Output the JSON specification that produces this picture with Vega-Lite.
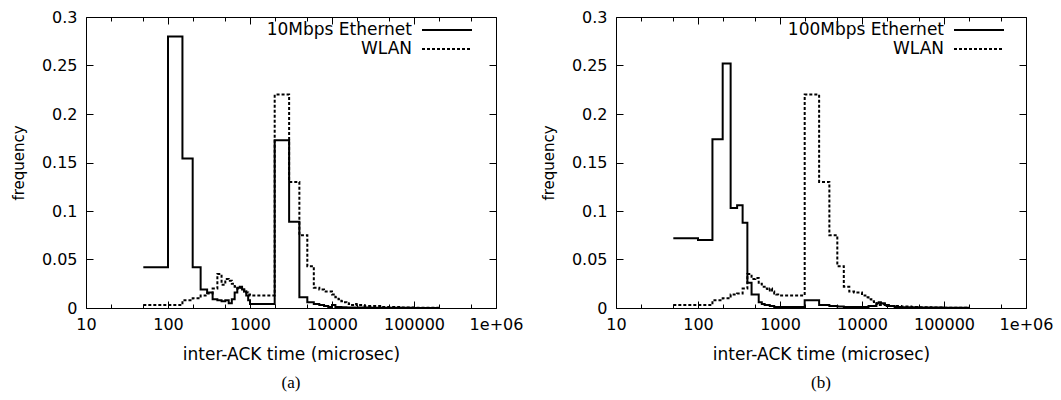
{
  "$schema": "https://vega.github.io/schema/vega-lite/v6.json",
  "background": "white",
  "padding": {"left": 10, "top": 8, "right": 0, "bottom": 0},
  "spacing": 16,
  "datasets": {
    "a": [
      {"s": "10Mbps Ethernet", "x": 50, "f": 0.042},
      {"s": "10Mbps Ethernet", "x": 100, "f": 0.280},
      {"s": "10Mbps Ethernet", "x": 150, "f": 0.154},
      {"s": "10Mbps Ethernet", "x": 200, "f": 0.042},
      {"s": "10Mbps Ethernet", "x": 250, "f": 0.019},
      {"s": "10Mbps Ethernet", "x": 300, "f": 0.016},
      {"s": "10Mbps Ethernet", "x": 350, "f": 0.009},
      {"s": "10Mbps Ethernet", "x": 400, "f": 0.008},
      {"s": "10Mbps Ethernet", "x": 450, "f": 0.007},
      {"s": "10Mbps Ethernet", "x": 500, "f": 0.008},
      {"s": "10Mbps Ethernet", "x": 550, "f": 0.005},
      {"s": "10Mbps Ethernet", "x": 600, "f": 0.009},
      {"s": "10Mbps Ethernet", "x": 650, "f": 0.016},
      {"s": "10Mbps Ethernet", "x": 700, "f": 0.021},
      {"s": "10Mbps Ethernet", "x": 750, "f": 0.022},
      {"s": "10Mbps Ethernet", "x": 800, "f": 0.019},
      {"s": "10Mbps Ethernet", "x": 850, "f": 0.017},
      {"s": "10Mbps Ethernet", "x": 900, "f": 0.013},
      {"s": "10Mbps Ethernet", "x": 950, "f": 0.008},
      {"s": "10Mbps Ethernet", "x": 1000, "f": 0.004},
      {"s": "10Mbps Ethernet", "x": 2000, "f": 0.173},
      {"s": "10Mbps Ethernet", "x": 3000, "f": 0.089},
      {"s": "10Mbps Ethernet", "x": 4000, "f": 0.011},
      {"s": "10Mbps Ethernet", "x": 5000, "f": 0.006},
      {"s": "10Mbps Ethernet", "x": 6000, "f": 0.004},
      {"s": "10Mbps Ethernet", "x": 7000, "f": 0.003},
      {"s": "10Mbps Ethernet", "x": 8000, "f": 0.002},
      {"s": "10Mbps Ethernet", "x": 9000, "f": 0.001},
      {"s": "10Mbps Ethernet", "x": 10000, "f": 0.003},
      {"s": "10Mbps Ethernet", "x": 11000, "f": 0.001},
      {"s": "10Mbps Ethernet", "x": 13000, "f": 0.0008},
      {"s": "10Mbps Ethernet", "x": 15000, "f": 0.0005},
      {"s": "10Mbps Ethernet", "x": 20000, "f": 0.0005},
      {"s": "10Mbps Ethernet", "x": 30000, "f": 0.0003},
      {"s": "10Mbps Ethernet", "x": 50000, "f": 0.0002},
      {"s": "10Mbps Ethernet", "x": 100000, "f": 0.0001},
      {"s": "10Mbps Ethernet", "x": 200000, "f": 0.0001},
      {"s": "WLAN", "x": 50, "f": 0.003},
      {"s": "WLAN", "x": 100, "f": 0.003},
      {"s": "WLAN", "x": 150, "f": 0.008},
      {"s": "WLAN", "x": 200, "f": 0.010},
      {"s": "WLAN", "x": 250, "f": 0.013},
      {"s": "WLAN", "x": 300, "f": 0.015},
      {"s": "WLAN", "x": 350, "f": 0.020},
      {"s": "WLAN", "x": 400, "f": 0.035},
      {"s": "WLAN", "x": 450, "f": 0.024},
      {"s": "WLAN", "x": 500, "f": 0.030},
      {"s": "WLAN", "x": 550, "f": 0.028},
      {"s": "WLAN", "x": 600, "f": 0.025},
      {"s": "WLAN", "x": 650, "f": 0.022},
      {"s": "WLAN", "x": 700, "f": 0.020},
      {"s": "WLAN", "x": 750, "f": 0.021},
      {"s": "WLAN", "x": 800, "f": 0.019},
      {"s": "WLAN", "x": 850, "f": 0.017},
      {"s": "WLAN", "x": 900, "f": 0.016},
      {"s": "WLAN", "x": 950, "f": 0.014},
      {"s": "WLAN", "x": 1000, "f": 0.013},
      {"s": "WLAN", "x": 2000, "f": 0.220},
      {"s": "WLAN", "x": 3000, "f": 0.130},
      {"s": "WLAN", "x": 4000, "f": 0.075},
      {"s": "WLAN", "x": 5000, "f": 0.043},
      {"s": "WLAN", "x": 6000, "f": 0.021},
      {"s": "WLAN", "x": 7000, "f": 0.019},
      {"s": "WLAN", "x": 8000, "f": 0.017},
      {"s": "WLAN", "x": 9000, "f": 0.017},
      {"s": "WLAN", "x": 10000, "f": 0.014},
      {"s": "WLAN", "x": 11000, "f": 0.011},
      {"s": "WLAN", "x": 12000, "f": 0.009},
      {"s": "WLAN", "x": 13000, "f": 0.007},
      {"s": "WLAN", "x": 14000, "f": 0.006},
      {"s": "WLAN", "x": 15000, "f": 0.005},
      {"s": "WLAN", "x": 16000, "f": 0.004},
      {"s": "WLAN", "x": 17000, "f": 0.003},
      {"s": "WLAN", "x": 19000, "f": 0.004},
      {"s": "WLAN", "x": 20000, "f": 0.003},
      {"s": "WLAN", "x": 22000, "f": 0.003},
      {"s": "WLAN", "x": 25000, "f": 0.002},
      {"s": "WLAN", "x": 30000, "f": 0.002},
      {"s": "WLAN", "x": 40000, "f": 0.001},
      {"s": "WLAN", "x": 50000, "f": 0.001},
      {"s": "WLAN", "x": 70000, "f": 0.0005},
      {"s": "WLAN", "x": 100000, "f": 0.0003},
      {"s": "WLAN", "x": 150000, "f": 0.0002},
      {"s": "WLAN", "x": 200000, "f": 0.0001}
    ],
    "b": [
      {"s": "100Mbps Ethernet", "x": 50, "f": 0.072},
      {"s": "100Mbps Ethernet", "x": 100, "f": 0.070},
      {"s": "100Mbps Ethernet", "x": 150, "f": 0.174},
      {"s": "100Mbps Ethernet", "x": 200, "f": 0.252},
      {"s": "100Mbps Ethernet", "x": 250, "f": 0.103},
      {"s": "100Mbps Ethernet", "x": 300, "f": 0.106},
      {"s": "100Mbps Ethernet", "x": 350, "f": 0.088},
      {"s": "100Mbps Ethernet", "x": 400, "f": 0.026},
      {"s": "100Mbps Ethernet", "x": 450, "f": 0.014},
      {"s": "100Mbps Ethernet", "x": 500, "f": 0.014},
      {"s": "100Mbps Ethernet", "x": 550, "f": 0.006},
      {"s": "100Mbps Ethernet", "x": 600, "f": 0.004},
      {"s": "100Mbps Ethernet", "x": 650, "f": 0.003},
      {"s": "100Mbps Ethernet", "x": 700, "f": 0.003},
      {"s": "100Mbps Ethernet", "x": 750, "f": 0.002},
      {"s": "100Mbps Ethernet", "x": 800, "f": 0.002},
      {"s": "100Mbps Ethernet", "x": 850, "f": 0.001},
      {"s": "100Mbps Ethernet", "x": 900, "f": 0.001},
      {"s": "100Mbps Ethernet", "x": 950, "f": 0.001},
      {"s": "100Mbps Ethernet", "x": 1000, "f": 0.001},
      {"s": "100Mbps Ethernet", "x": 2000, "f": 0.008},
      {"s": "100Mbps Ethernet", "x": 3000, "f": 0.003},
      {"s": "100Mbps Ethernet", "x": 4000, "f": 0.002},
      {"s": "100Mbps Ethernet", "x": 5000, "f": 0.0015},
      {"s": "100Mbps Ethernet", "x": 6000, "f": 0.001},
      {"s": "100Mbps Ethernet", "x": 8000, "f": 0.001},
      {"s": "100Mbps Ethernet", "x": 10000, "f": 0.001},
      {"s": "100Mbps Ethernet", "x": 12000, "f": 0.002},
      {"s": "100Mbps Ethernet", "x": 15000, "f": 0.005},
      {"s": "100Mbps Ethernet", "x": 16000, "f": 0.006},
      {"s": "100Mbps Ethernet", "x": 17000, "f": 0.005},
      {"s": "100Mbps Ethernet", "x": 19000, "f": 0.003},
      {"s": "100Mbps Ethernet", "x": 20000, "f": 0.002},
      {"s": "100Mbps Ethernet", "x": 25000, "f": 0.001},
      {"s": "100Mbps Ethernet", "x": 30000, "f": 0.0008},
      {"s": "100Mbps Ethernet", "x": 50000, "f": 0.0005},
      {"s": "100Mbps Ethernet", "x": 100000, "f": 0.0003},
      {"s": "100Mbps Ethernet", "x": 200000, "f": 0.0001},
      {"s": "WLAN", "x": 50, "f": 0.003},
      {"s": "WLAN", "x": 100, "f": 0.003},
      {"s": "WLAN", "x": 150, "f": 0.008},
      {"s": "WLAN", "x": 200, "f": 0.010},
      {"s": "WLAN", "x": 250, "f": 0.014},
      {"s": "WLAN", "x": 300, "f": 0.015},
      {"s": "WLAN", "x": 350, "f": 0.020},
      {"s": "WLAN", "x": 400, "f": 0.035},
      {"s": "WLAN", "x": 450, "f": 0.030},
      {"s": "WLAN", "x": 500, "f": 0.031},
      {"s": "WLAN", "x": 550, "f": 0.025},
      {"s": "WLAN", "x": 600, "f": 0.022},
      {"s": "WLAN", "x": 650, "f": 0.020},
      {"s": "WLAN", "x": 700, "f": 0.018},
      {"s": "WLAN", "x": 750, "f": 0.020},
      {"s": "WLAN", "x": 800, "f": 0.017},
      {"s": "WLAN", "x": 850, "f": 0.015},
      {"s": "WLAN", "x": 900, "f": 0.014},
      {"s": "WLAN", "x": 950, "f": 0.013},
      {"s": "WLAN", "x": 1000, "f": 0.013},
      {"s": "WLAN", "x": 2000, "f": 0.220},
      {"s": "WLAN", "x": 3000, "f": 0.130},
      {"s": "WLAN", "x": 4000, "f": 0.075},
      {"s": "WLAN", "x": 5000, "f": 0.043},
      {"s": "WLAN", "x": 6000, "f": 0.022},
      {"s": "WLAN", "x": 7000, "f": 0.017},
      {"s": "WLAN", "x": 8000, "f": 0.016},
      {"s": "WLAN", "x": 9000, "f": 0.016},
      {"s": "WLAN", "x": 10000, "f": 0.013},
      {"s": "WLAN", "x": 11000, "f": 0.011},
      {"s": "WLAN", "x": 12000, "f": 0.009},
      {"s": "WLAN", "x": 13000, "f": 0.007},
      {"s": "WLAN", "x": 14000, "f": 0.005},
      {"s": "WLAN", "x": 15000, "f": 0.004},
      {"s": "WLAN", "x": 16000, "f": 0.003},
      {"s": "WLAN", "x": 18000, "f": 0.004},
      {"s": "WLAN", "x": 19000, "f": 0.003},
      {"s": "WLAN", "x": 22000, "f": 0.002},
      {"s": "WLAN", "x": 30000, "f": 0.0015},
      {"s": "WLAN", "x": 40000, "f": 0.001},
      {"s": "WLAN", "x": 50000, "f": 0.0007},
      {"s": "WLAN", "x": 70000, "f": 0.0005},
      {"s": "WLAN", "x": 100000, "f": 0.0003},
      {"s": "WLAN", "x": 150000, "f": 0.0002},
      {"s": "WLAN", "x": 200000, "f": 0.0001}
    ]
  },
  "config": {
    "view": {"stroke": "black", "strokeWidth": 1},
    "axis": {
      "domain": false, "grid": false, "ticks": true,
      "tickColor": "black", "tickWidth": 1, "tickOpacity": 1,
      "labelColor": "black", "labelFont": "DejaVu Sans", "labelFontSize": 16,
      "titleColor": "black", "titleFont": "DejaVu Sans", "titleFontSize": 17, "titleFontWeight": "normal",
      "labelFlush": false, "labelOverlap": false, "zindex": 1
    },
    "axisY": {"titleFontSize": 15},
    "legend": {
      "padding": 0, "title": null,
      "symbolStrokeWidth": 2, "symbolStrokeColor": "black",
      "labelFont": "DejaVu Sans", "labelFontSize": 17, "labelColor": "black",
      "labelAlign": "right", "labelOffset": -46, "rowPadding": -3
    },
    "title": {"font": "Liberation Serif", "fontSize": 17, "fontWeight": "normal", "color": "black", "orient": "bottom", "frame": "group", "anchor": "middle", "offset": 13}
  },
  "resolve": {"scale": {"x": "independent", "y": "independent", "strokeDash": "independent"}, "legend": {"strokeDash": "independent"}},
  "hconcat": [
    {
      "width": 410, "height": 291,
      "title": {"text": "(a)"},
      "data": {"name": "a"},
      "layer": [
        {
          "mark": {"type": "line", "interpolate": "step-after", "strokeWidth": 2, "color": "black"},
          "encoding": {
            "x": {"field": "x", "type": "quantitative", "scale": {"type": "log", "domain": [10, 1000000], "nice": false},
              "axis": {"orient": "bottom", "title": "inter-ACK time (microsec)", "titlePadding": 14,
                "values": [10, 100, 1000, 10000, 100000, 1000000],
                "labelExpr": "datum.value == 1000000 ? '1e+06' : '' + datum.value",
                "offset": -7, "tickSize": 7, "labelPadding": 8}},
            "y": {"field": "f", "type": "quantitative", "scale": {"domain": [0, 0.3], "nice": false},
              "axis": {"orient": "left", "title": "frequency", "titlePadding": 15, "values": [0, 0.05, 0.1, 0.15, 0.2, 0.25, 0.3], "format": "~g", "offset": -7, "tickSize": 7, "labelPadding": 9}},
            "strokeDash": {"field": "s", "type": "nominal", "scale": {"domain": ["10Mbps Ethernet", "WLAN"], "range": [[1, 0], [3, 2]]},
              "legend": {"orient": "none", "legendX": 350, "legendY": 2, "symbolType": "M-2.5,0H2.5", "symbolSize": 400}}
          }
        },
        {
          "mark": {"type": "line", "interpolate": "step-after", "opacity": 0},
          "encoding": {
            "x": {"field": "x", "type": "quantitative", "scale": {"type": "log", "domain": [10, 1000000], "nice": false},
              "axis": {"orient": "top", "title": null, "labels": false, "values": [10, 100, 1000, 10000, 100000, 1000000], "offset": -7, "tickSize": 7}},
            "y": {"field": "f", "type": "quantitative", "scale": {"domain": [0, 0.3], "nice": false},
              "axis": {"orient": "right", "title": null, "labels": false, "values": [0, 0.05, 0.1, 0.15, 0.2, 0.25, 0.3], "offset": -7, "tickSize": 7}}
          }
        },
        {
          "mark": {"type": "line", "interpolate": "step-after", "opacity": 0},
          "encoding": {
            "x": {"field": "x", "type": "quantitative", "scale": {"type": "log", "domain": [10, 1000000], "nice": false},
              "axis": {"orient": "bottom", "title": null, "labels": false, "values": [20, 50, 200, 500, 2000, 5000, 20000, 50000, 200000, 500000], "offset": -4, "tickSize": 4}},
            "y": {"field": "f", "type": "quantitative", "scale": {"domain": [0, 0.3], "nice": false}, "axis": null}
          }
        },
        {
          "mark": {"type": "line", "interpolate": "step-after", "opacity": 0},
          "encoding": {
            "x": {"field": "x", "type": "quantitative", "scale": {"type": "log", "domain": [10, 1000000], "nice": false},
              "axis": {"orient": "top", "title": null, "labels": false, "values": [20, 50, 200, 500, 2000, 5000, 20000, 50000, 200000, 500000], "offset": -4, "tickSize": 4}},
            "y": {"field": "f", "type": "quantitative", "scale": {"domain": [0, 0.3], "nice": false}, "axis": null}
          }
        }
      ],
      "resolve": {"axis": {"x": "independent", "y": "independent"}}
    },
    {
      "width": 410, "height": 291,
      "title": {"text": "(b)"},
      "data": {"name": "b"},
      "layer": [
        {
          "mark": {"type": "line", "interpolate": "step-after", "strokeWidth": 2, "color": "black"},
          "encoding": {
            "x": {"field": "x", "type": "quantitative", "scale": {"type": "log", "domain": [10, 1000000], "nice": false},
              "axis": {"orient": "bottom", "title": "inter-ACK time (microsec)", "titlePadding": 14,
                "values": [10, 100, 1000, 10000, 100000, 1000000],
                "labelExpr": "datum.value == 1000000 ? '1e+06' : '' + datum.value",
                "offset": -7, "tickSize": 7, "labelPadding": 8}},
            "y": {"field": "f", "type": "quantitative", "scale": {"domain": [0, 0.3], "nice": false},
              "axis": {"orient": "left", "title": "frequency", "titlePadding": 15, "values": [0, 0.05, 0.1, 0.15, 0.2, 0.25, 0.3], "format": "~g", "offset": -7, "tickSize": 7, "labelPadding": 9}},
            "strokeDash": {"field": "s", "type": "nominal", "scale": {"domain": ["100Mbps Ethernet", "WLAN"], "range": [[1, 0], [3, 2]]},
              "legend": {"orient": "none", "legendX": 352, "legendY": 2, "symbolType": "M-2.5,0H2.5", "symbolSize": 400}}
          }
        },
        {
          "mark": {"type": "line", "interpolate": "step-after", "opacity": 0},
          "encoding": {
            "x": {"field": "x", "type": "quantitative", "scale": {"type": "log", "domain": [10, 1000000], "nice": false},
              "axis": {"orient": "top", "title": null, "labels": false, "values": [10, 100, 1000, 10000, 100000, 1000000], "offset": -7, "tickSize": 7}},
            "y": {"field": "f", "type": "quantitative", "scale": {"domain": [0, 0.3], "nice": false},
              "axis": {"orient": "right", "title": null, "labels": false, "values": [0, 0.05, 0.1, 0.15, 0.2, 0.25, 0.3], "offset": -7, "tickSize": 7}}
          }
        },
        {
          "mark": {"type": "line", "interpolate": "step-after", "opacity": 0},
          "encoding": {
            "x": {"field": "x", "type": "quantitative", "scale": {"type": "log", "domain": [10, 1000000], "nice": false},
              "axis": {"orient": "bottom", "title": null, "labels": false, "values": [20, 50, 200, 500, 2000, 5000, 20000, 50000, 200000, 500000], "offset": -4, "tickSize": 4}},
            "y": {"field": "f", "type": "quantitative", "scale": {"domain": [0, 0.3], "nice": false}, "axis": null}
          }
        },
        {
          "mark": {"type": "line", "interpolate": "step-after", "opacity": 0},
          "encoding": {
            "x": {"field": "x", "type": "quantitative", "scale": {"type": "log", "domain": [10, 1000000], "nice": false},
              "axis": {"orient": "top", "title": null, "labels": false, "values": [20, 50, 200, 500, 2000, 5000, 20000, 50000, 200000, 500000], "offset": -4, "tickSize": 4}},
            "y": {"field": "f", "type": "quantitative", "scale": {"domain": [0, 0.3], "nice": false}, "axis": null}
          }
        }
      ],
      "resolve": {"axis": {"x": "independent", "y": "independent"}}
    }
  ]
}
